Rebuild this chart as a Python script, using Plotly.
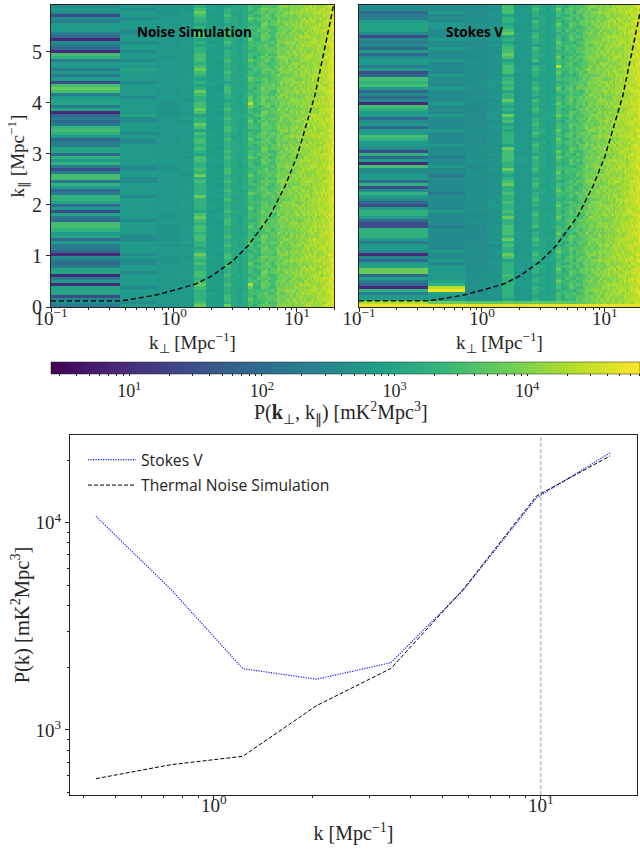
import plotly.graph_objects as go

# ---- heat-map level codes (top row first) ----
LEVEL_LOG10 = [0.9, 1.45, 1.9, 2.25, 2.55, 2.8, 3.0, 3.25, 3.5, 3.8, 4.35, 4.75]

noise_col0 = [4,5,4,1,4,3,5,5,5,3, 2,0,4,3,2,0,8,7,3,5, 5,3,5,3,5,1,8,9,8,3,
              5,6,6,3,6,0,2,3,2,3, 7,8,7,5,2,3,3,6,6,2, 7,5,7,3,1,3,8,8,3,7,
              5,2,3,7,7,6,2,5,1,6, 3,2,8,8,7,5,6,2,5,3, 3,2,0,4,3,2,3,6,6,0,
              3,5,0,6,6,6,1,4,4,3]
noise_col1 = [5,4,5,5,4,5,5,5,4,4, 5,5,4,5,5,4,5,5,4,5, 5,6,5,5,5,4,5,5,5,5,
              4,5,5,5,5,5,6,4,4,5, 5,5,4,5,4,4,5,5,5,5, 5,5,5,4,4,5,5,4,4,5,
              5,5,5,4,5,5,5,5,5,5, 5,4,5,5,5,5,4,4,5,5, 5,5,4,5,4,4,5,5,4,5,
              5,5,5,4,5,5,5,5,4,5]
noise_col4 = [7,8,9,8,7,7,6,7,6,9, 8,6,7,6,7,7,8,8,8,7, 8,9,8,7,6,7,6,7,9,8,
              7,7,8,8,9,8,6,7,7,9, 8,6,8,7,8,8,7,8,7,6, 8,8,7,7,8,7,9,7,8,7,
              7,7,7,9,7,7,7,7,6,8, 9,8,7,8,8,7,8,8,7,7, 6,7,9,8,7,8,7,7,8,8,
              7,8,9,8,7,7,7,7,8,9]
noise_col7 = [6,7,7,8,7,7,6,7,7,8, 7,7,8,7,6,7,7,7,8,7, 7,7,8,7,7,6,7,8,8,7,
              7,6,7,7,8,7,7,8,7,7, 8,8,7,7,8,7,7,7,8,7, 8,7,7,7,8,8,7,7,8,7,
              7,8,7,7,8,7,7,7,8,7, 7,8,8,7,7,7,8,7,7,8, 7,7,8,8,7,7,8,7,7,8,
              7,7,8,7,7,7,8,8,7,9]
noise_col11 = [8,8,7,8,9,8,7,8,8,8, 7,9,8,8,8,7,8,8,9,8, 8,7,8,8,9,8,8,8,7,8,
               9,9,10,9,8,8,7,8,9,8, 8,7,8,8,9,8,8,7,8,8, 9,8,8,8,7,8,9,8,8,8,
               7,8,9,8,8,8,8,9,8,8, 8,7,8,9,8,8,8,8,9,8, 8,7,8,8,8,9,8,8,8,7,
               8,8,10,9,8,8,8,9,8,8]

stokes_col0 = [4,4,2,3,3,5,6,6,6,4, 1,4,3,4,2,5,2,4,5,5, 3,5,1,2,8,7,8,5,2,4,
               2,4,0,8,7,5,5,2,4,5, 2,5,5,8,7,5,5,4,1,7, 2,5,0,8,4,4,5,5,2,7,
               1,4,7,5,4,2,1,5,7,7, 5,2,1,1,7,7,7,5,3,5, 5,4,0,4,2,5,6,9,9,2,
               5,3,2,0,7,3,5,5,10,11]
stokes_col1 = [4,4,5,4,4,4,5,5,4,4, 4,5,4,4,5,4,4,4,5,4, 4,4,4,5,4,4,4,5,4,4,
               4,4,5,4,4,4,5,4,4,4, 4,5,4,4,4,4,5,4,4,4, 3,4,4,5,4,4,3,4,4,4,
               4,4,3,4,4,4,4,4,5,4, 4,4,4,3,4,4,4,4,4,4, 4,5,4,4,5,4,5,5,5,5,
               5,6,7,10,11,6,5,5,9,11]
stokes_col4 = [8,8,8,6,7,7,6,7,8,9, 6,7,6,7,8,8,9,8,6,7, 8,8,8,6,7,8,7,8,6,7,
               7,9,7,6,7,6,9,7,8,6, 7,6,7,7,7,7,6,9,8,8, 8,8,7,7,9,7,6,7,8,9,
               7,7,8,7,7,8,7,7,8,7, 9,7,7,8,8,8,7,9,7,8, 7,7,9,8,6,7,7,7,7,8,
               7,7,7,7,7,7,7,6,9,11]
stokes_col7 = [7,8,7,7,6,8,7,7,6,7, 8,7,7,6,8,7,7,7,8,6, 7,8,7,7,6,7,7,8,7,7,
               6,8,7,7,8,7,6,7,7,8, 7,7,8,7,6,7,8,7,7,6, 8,7,7,7,8,7,6,7,7,8,
               7,6,7,7,8,7,7,6,7,8, 7,7,7,8,6,7,7,8,7,7, 6,7,8,7,7,6,7,7,7,6,
               7,7,6,7,7,7,6,7,9,11]
stokes_col11 = [8,9,8,8,7,8,9,8,8,7, 8,8,9,8,8,7,8,9,8,8, 10,8,9,8,8,7,8,9,8,7,
                8,8,9,8,8,8,9,8,7,8, 8,9,8,8,9,8,8,7,9,8, 9,8,7,8,8,9,8,8,7,8,
                8,9,8,8,7,8,9,8,8,8, 9,8,7,8,8,9,8,8,8,7, 8,9,8,8,7,8,8,9,8,7,
                8,9,8,8,7,8,8,8,9,11]

# log10 P per k_perp bin
noise_levels = [0,2.8,2.75,2.8,0,2.9,2.85,0,3.05,3.0,3.1,0,3.35,3.45,3.7,3.7,3.6,3.6,3.65,3.85,
                3.9,3.9,3.95,3.9,4.0,4.0,4.0,4.05,4.0,4.1,4.1,4.15,4.1,4.15,4.2,4.15,4.2,4.2,4.25,4.2,
                4.2,4.25,4.3,4.25,4.3,4.3,4.35,4.3,4.35,4.4,4.45,4.45,4.55,4.6,4.65]
stokes_levels = [0,2.55,2.6,2.7,0,2.8,2.8,0,3.0,2.95,3.0,0,3.25,3.4,3.6,3.45,3.55,3.6,3.7,3.8,
                 3.85,3.9,3.9,3.95,4.0,4.0,3.95,4.05,4.05,4.1,4.05,4.15,4.1,4.2,4.15,4.2,4.2,4.25,4.2,4.25,
                 4.3,4.25,4.3,4.35,4.3,4.4,4.35,4.4,4.4,4.45,4.45,4.55,4.5,4.6,4.65]
# small hand-read row-to-row ripple (hundredths of a decade)
ripple = [3,-6,9,-2,5,-10,12,0,-7,6,-3,14,-9,2,8,-5,-12,4,10,-1,-8,7,-4,11,-11,1,6,-6,13,-2,
          -9,5,9,-7,0,3,-13,8,-3,4,15]

wedge_k = [0.1,0.365,0.5,0.7,1,1.5,2,3,4,6,8,10,14,20,21]
wedge_kpar = [0.12,0.12,0.17,0.23,0.33,0.45,0.6,0.9,1.2,1.78,2.37,2.95,4.15,5.92,6.2]

k_1d = [0.436,0.74,1.226,2.06,3.48,5.8,9.7,16.3]
stokes_p = [10750,4760,1977,1758,2113,4750,13200,21800]
noise_p = [582,680,746,1310,1982,4790,13480,21050]

PX, PY = 640, 850
kperp_edges = [0.1] + [round(0.365*n,3) for n in range(1,56)]
kpar_edges = [round(0.0592*n,4) for n in range(101)]

def build(levels, c0, c1, c4, c7, c11, floor):
    rows = []
    for i in range(100):
        row = []
        for j in range(55):
            special = {0:c0, 1:c1, 4:c4, 7:c7, 11:c11}.get(j)
            if special is not None:
                row.append(LEVEL_LOG10[special[i]])
            else:
                v = levels[j] + ripple[(i*(1+j%3)+5*j) % len(ripple)]*0.01*(0.5 if j<12 else 1.5)
                if floor and i == 99: v = 4.7
                if floor and i == 98: v = max(v, 3.7)
                row.append(v)
        rows.append(row)
    return rows[::-1]

VMIN, VMAX = 0.41, 4.85
SERIF = "Liberation Serif"
SANS = "Open Sans"
INK = "#262626"
K_PERP = "k<sub>⊥</sub> [Mpc<sup>−1</sup>]"
cb_minor = [v+d for v in (0,1,2,3,4) for d in (0.301,0.477,0.602,0.699,0.778,0.845,0.903,0.954)]
cb_major = [1,2,3,4]

fig = go.Figure()
fig.add_trace(go.Heatmap(x=kperp_edges, y=kpar_edges, z=build(noise_levels,noise_col0,noise_col1,noise_col4,noise_col7,noise_col11,False),
    xaxis="x", yaxis="y", colorscale="Viridis", zmin=VMIN, zmax=VMAX, showscale=False, hoverinfo="skip"))
fig.add_trace(go.Heatmap(x=kperp_edges, y=kpar_edges, z=build(stokes_levels,stokes_col0,stokes_col1,stokes_col4,stokes_col7,stokes_col11,True),
    xaxis="x2", yaxis="y2", colorscale="Viridis", zmin=VMIN, zmax=VMAX, showscale=True, hoverinfo="skip",
    colorbar=dict(orientation="h", x=51/PX, xanchor="left", y=1-362/PY, yanchor="top", yref="paper", xref="paper",
                  len=589, lenmode="pixels", thickness=12, thicknessmode="pixels", xpad=0, ypad=0,
                  outlinecolor=INK, outlinewidth=0.5,
                  tickmode="array", tickvals=cb_major+cb_minor,
                  ticktext=["10<sup>%d</sup>"%v for v in cb_major]+[""]*len(cb_minor),
                  ticks="outside", ticklen=2, tickcolor=INK, tickwidth=0.6,
                  tickfont=dict(family=SERIF,size=18,color=INK))))
for xa, ya in (("x","y"),("x2","y2")):
    fig.add_trace(go.Scatter(x=wedge_k, y=wedge_kpar, xaxis=xa, yaxis=ya, mode="lines", showlegend=False,
                             line=dict(color="black",width=1.4,dash="5px,3px"), hoverinfo="skip"))
fig.add_trace(go.Scatter(x=k_1d, y=stokes_p, xaxis="x3", yaxis="y3", mode="lines", name="Stokes V", legendgroup="a",
                         line=dict(color="#1a1aff",width=1.2,dash="1.2px,1.3px")))
fig.add_trace(go.Scatter(x=k_1d, y=noise_p, xaxis="x3", yaxis="y3", mode="lines", name="Thermal Noise Simulation", legendgroup="b",
                         line=dict(color="black",width=1,dash="4px,2px")))

def logx(dom, rng, standoff, **kw):
    return dict(type="log", domain=[dom[0]/PX, dom[1]/PX], range=rng, tickmode="array",
                ticks="outside", ticklen=4, tickwidth=1, tickcolor=INK,
                minor=dict(ticks="outside", ticklen=2, tickwidth=0.7, tickcolor=INK, dtick="D1", showgrid=False),
                showgrid=False, zeroline=False, showline=True, linecolor=INK, linewidth=1, mirror=True,
                ticklabelstandoff=standoff, automargin=True,
                tickfont=dict(family=SERIF,size=19,color=INK), **kw)

tv = [0.1,1,10]
tt = ["10<sup>−1</sup>","10<sup>0</sup>","10<sup>1</sup>"]
title_font = dict(family=SERIF,size=19,color=INK)
layout = dict(width=PX, height=PY, autosize=False, margin=dict(l=0,r=0,t=0,b=0,autoexpand=False),
    paper_bgcolor="white", plot_bgcolor="white",
    xaxis=logx((51,334),[-1,1.301],-10,tickvals=tv,ticktext=tt,anchor="y",title=dict(text=K_PERP,font=title_font,standoff=4)),
    xaxis2=logx((359,640),[-1,1.285],-10,tickvals=tv,ticktext=tt,anchor="y2",title=dict(text=K_PERP,font=title_font,standoff=4)),
    yaxis=dict(domain=[1-307/PY,1-5/PY],range=[0,5.92],tickvals=[0,1,2,3,4,5],ticks="outside",ticklen=4,tickcolor=INK,
               showgrid=False,zeroline=False,showline=True,linecolor=INK,linewidth=1,mirror=True,anchor="x",
               tickfont=dict(family=SERIF,size=20,color=INK),automargin=True,
               title=dict(text="k<sub>∥</sub> [Mpc<sup>−1</sup>]",font=title_font,standoff=2)),
    yaxis2=dict(domain=[1-307/PY,1-5/PY],range=[0,5.92],showticklabels=False,ticks="",
                showgrid=False,zeroline=False,showline=True,linecolor=INK,linewidth=1,mirror=True,anchor="x2"),
    xaxis3=logx((70,637),[-0.44,1.294],-11,tickvals=[1,10],ticktext=["10<sup>0</sup>","10<sup>1</sup>"],anchor="y3",
                title=dict(text="k [Mpc<sup>−1</sup>]",font=dict(family=SERIF,size=20,color=INK),standoff=11)),
    yaxis3=dict(type="log",domain=[1-795/PY,1-435/PY],range=[2.686,4.424],tickmode="array",tickvals=[1000,10000],
                ticktext=["10<sup>3</sup>","10<sup>4</sup>"],ticks="outside",ticklen=4,tickcolor=INK,
                minor=dict(ticks="outside",ticklen=2,tickwidth=0.7,tickcolor=INK,dtick="D1",showgrid=False),
                showgrid=False,zeroline=False,showline=True,linecolor=INK,linewidth=1,mirror=True,anchor="x3",
                tickfont=dict(family=SERIF,size=19,color=INK),automargin=True,
                title=dict(text="P(k) [mK<sup>2</sup>Mpc<sup>3</sup>]",font=dict(family=SERIF,size=20.5,color=INK),standoff=0)),
    legend=dict(x=83/PX,y=1-443/PY,xanchor="left",yanchor="top",bgcolor="rgba(255,255,255,0)",itemwidth=48,
                traceorder="grouped",tracegroupgap=2,font=dict(family=SANS,size=15.7,color="#222222")),
    shapes=[dict(type="line",xref="x3",yref="y3 domain",x0=10,x1=10,y0=0,y1=1,
                 line=dict(color="#6f9a7a",width=0.8,dash="4px,2px"))],
    annotations=[dict(text="<b>Noise Simulation</b>",xref="paper",yref="paper",x=194/PX,y=1-21/PY,xanchor="center",showarrow=False,
                      font=dict(family=SANS,size=13.5,color="black")),
                 dict(text="<b>Stokes V</b>",xref="paper",yref="paper",x=474/PX,y=1-21/PY,xanchor="center",showarrow=False,
                      font=dict(family=SANS,size=13.5,color="black")),
                 dict(text="P(<b>k</b><sub>⊥</sub>, k<sub>∥</sub>) [mK<sup>2</sup>Mpc<sup>3</sup>]",xref="paper",yref="paper",
                      x=341/PX,y=1-413/PY,xanchor="center",showarrow=False,font=dict(family=SERIF,size=20,color=INK))])
fig.update_layout(**layout)
fig.write_html("out.html", config={"displayModeBar":False}, post_script="document.body.style.margin='0';")
